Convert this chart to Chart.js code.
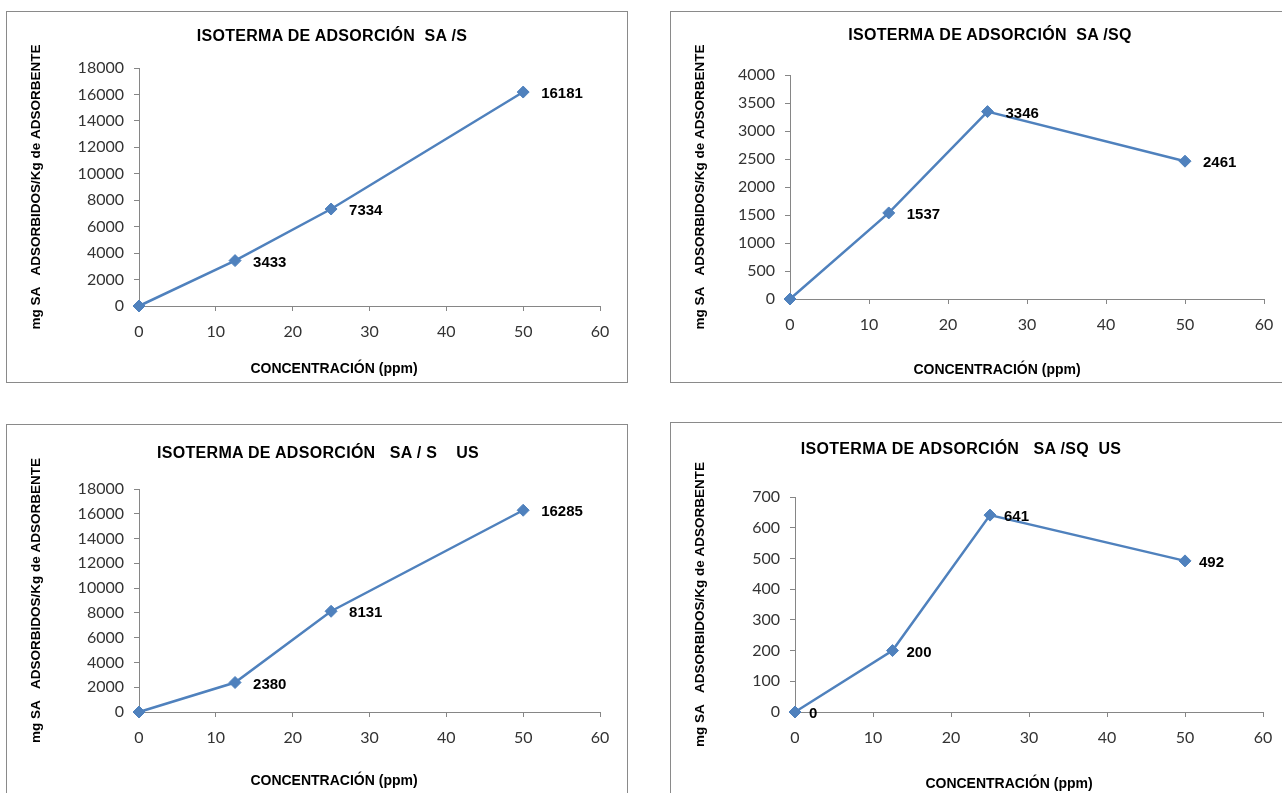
<!DOCTYPE html>
<html>
<head>
<meta charset="utf-8">
<script src="https://cdn.jsdelivr.net/npm/chart.js@4"></script>
<style>
  body { margin: 0; background: #fff; width: 1282px; height: 793px; overflow: hidden; position: relative; }
  .box { position: absolute; box-sizing: border-box; border: 1px solid #8a8a8a; width: 622px; height: 372px; background: #fff; }
  .box canvas { position: absolute; left: 0; top: 0; }
  .ttl { position: absolute; transform: translate(-50%, -50%); white-space: pre; font-family: "Liberation Sans", Arial, sans-serif; font-weight: bold; color: #000; }
  .main { font-size: 16px; letter-spacing: 0.3px; }
  .xt { font-size: 14px; }
</style>
</head>
<body>

<div class="box" style="left:6px; top:11px;"><canvas id="c1" width="620" height="370"></canvas></div>
<div class="box" style="left:670px; top:11px;"><canvas id="c2" width="620" height="370"></canvas></div>
<div class="box" style="left:6px; top:424px;"><canvas id="c3" width="620" height="370"></canvas></div>
<div class="box" style="left:670px; top:422px;"><canvas id="c4" width="620" height="370"></canvas></div>

<div class="ttl main" style="left:332px; top:36px;">ISOTERMA DE ADSORCIÓN  SA /S</div>
<div class="ttl main" style="left:990px; top:35px;">ISOTERMA DE ADSORCIÓN  SA /SQ</div>
<div class="ttl main" style="left:318px; top:453px;">ISOTERMA DE ADSORCIÓN   SA / S    US</div>
<div class="ttl main" style="left:961px; top:449px;">ISOTERMA DE ADSORCIÓN   SA /SQ  US</div>

<div class="ttl xt" style="left:334px; top:368px;">CONCENTRACIÓN (ppm)</div>
<div class="ttl xt" style="left:997px; top:369px;">CONCENTRACIÓN (ppm)</div>
<div class="ttl xt" style="left:334px; top:780px;">CONCENTRACIÓN (ppm)</div>
<div class="ttl xt" style="left:1009px; top:783px;">CONCENTRACIÓN (ppm)</div>

<script>
// concentration (ppm) for every isotherm
const concentrations = [0, 12.5, 25, 50];

// mg SA adsorbed / Kg adsorbent
const valuesS = [0, 3433, 7334, 16181];
const valuesSQ = [0, 1537, 3346, 2461];
const valuesSUS = [0, 2380, 8131, 16285];
const valuesSQUS = [0, 200, 641, 492];

const xTicks = [0, 10, 20, 30, 40, 50, 60];

const yTitle = 'mg SA   ADSORBIDOS/Kg de ADSORBENTE';
const blue = '#4F81BD';
const axisGrey = '#868686';

// draws the number to the right of each marker
const valueLabels = {
    id: 'valueLabels',
    afterDatasetsDraw(chart, args, opts) {
        const ctx = chart.ctx;
        const meta = chart.getDatasetMeta(0);
        const ds = chart.data.datasets[0];
        ctx.save();
        ctx.font = 'bold 15px "Liberation Sans", Arial, sans-serif';
        ctx.fillStyle = '#000';
        ctx.textBaseline = 'middle';
        ctx.textAlign = 'left';
        meta.data.forEach((pt, i) => {
            const v = ds.data[i].y;
            if (v === 0 && !opts.showZero) return;
            ctx.fillText(String(v), pt.x + opts.offset, pt.y + 2);
        });
        ctx.restore();
    }
};

function makeChart(id, values, yMax, yStep, plot) {
    const points = concentrations.map((c, i) => ({ x: c, y: values[i] }));
    return new Chart(document.getElementById(id), {
        type: 'scatter',
        data: {
            datasets: [{
                data: points,
                showLine: true,
                borderColor: blue,
                backgroundColor: blue,
                borderWidth: 2.5,
                pointStyle: 'rectRot',
                pointRadius: 6,
                pointBorderWidth: 1,
                pointBorderColor: blue,
                pointBackgroundColor: blue,
                clip: false
            }]
        },
        options: {
            responsive: false,
            animation: false,
            events: [],
            layout: {
                padding: { left: 10, right: 620 - plot.right, top: plot.top, bottom: 0 }
            },
            scales: {
                x: {
                    type: 'linear',
                    min: 0,
                    max: 60,
                    afterBuildTicks: (scale) => { scale.ticks = xTicks.map(v => ({ value: v })); },
                    afterFit: (scale) => { scale.height = 370 - plot.bottom; },
                    grid: { drawOnChartArea: false, drawTicks: true, tickLength: 5, color: axisGrey },
                    border: { color: axisGrey, width: 1 },
                    ticks: {
                        padding: 11,
                        color: '#333',
                        font: { family: 'Lato, "DejaVu Sans", sans-serif', size: 16 },
                        callback: (v) => String(v)
                    }
                },
                y: {
                    min: 0,
                    max: yMax,
                    afterFit: (scale) => { scale.width = plot.left - 10; },
                    grid: { drawOnChartArea: false, drawTicks: true, tickLength: 5, color: axisGrey },
                    border: { color: axisGrey, width: 1 },
                    ticks: {
                        stepSize: yStep,
                        padding: 10,
                        color: '#333',
                        font: { family: 'Lato, "DejaVu Sans", sans-serif', size: 16 },
                        callback: (v) => String(v)
                    },
                    title: {
                        display: true,
                        text: yTitle,
                        color: '#000',
                        padding: { top: 11, bottom: 0 },
                        font: { family: '"Liberation Sans", Arial, sans-serif', size: 13.5, weight: 'bold' }
                    }
                }
            },
            plugins: {
                legend: { display: false },
                tooltip: { enabled: false },
                valueLabels: { offset: plot.labelOffset, showZero: plot.showZero }
            }
        },
        plugins: [valueLabels]
    });
}

makeChart('c1', valuesS, 18000, 2000, { left: 132, right: 593, top: 56, bottom: 294, labelOffset: 18, showZero: false });
makeChart('c2', valuesSQ, 4000, 500, { left: 119, right: 593, top: 63, bottom: 287, labelOffset: 18, showZero: false });
makeChart('c3', valuesSUS, 18000, 2000, { left: 132, right: 593, top: 64, bottom: 287, labelOffset: 18, showZero: false });
makeChart('c4', valuesSQUS, 700, 100, { left: 124, right: 592, top: 74, bottom: 289, labelOffset: 14, showZero: true });
</script>
</body>
</html>
